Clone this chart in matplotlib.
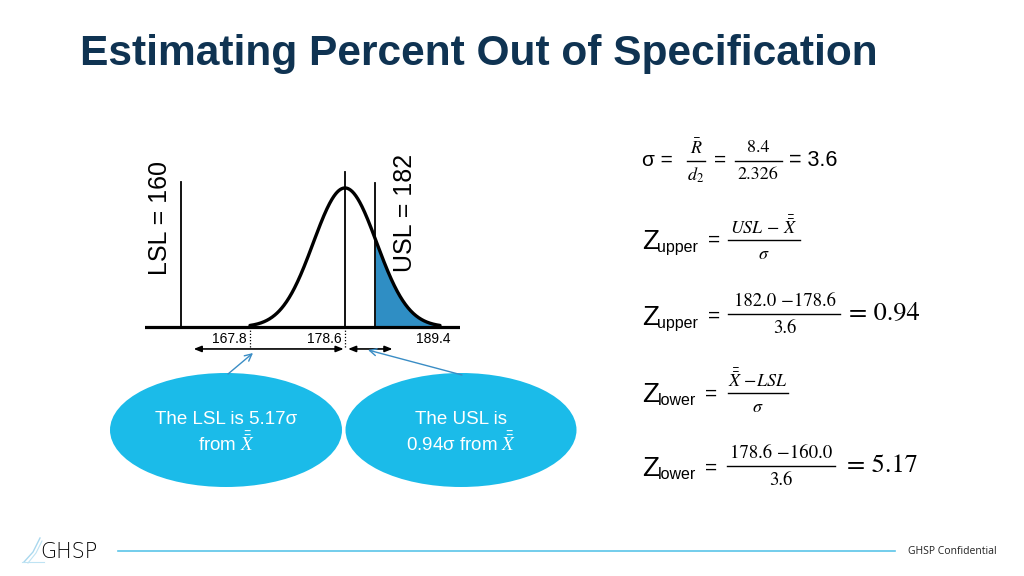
import numpy as np
import matplotlib
matplotlib.use("Agg")
import matplotlib.pyplot as plt
from matplotlib.patches import Ellipse
from matplotlib.transforms import offset_copy

# ---------------- data ----------------
title = "Estimating Percent Out of Specification"
mean = 178.6
sigma = 3.6
LSL = 160.0
USL = 182.0
tick_values = [167.8, 178.6, 189.4]
Rbar = 8.4
d2 = 2.326
z_upper = 0.94
z_lower = 5.17

# ---------------- styles ----------------
SANS = "Liberation Sans"
SERIF = "STIXGeneral"
TITLE_C = "#0F3352"
BUBBLE_C = "#1BBBE9"
FILL_C = "#2F8EC4"
ARROW_C = "#3A8DC5"
FOOT_C = "#5BC5E9"

fig = plt.figure(figsize=(10.24, 5.76), dpi=100)
fig.patch.set_facecolor("white")

# overlay axes in slide pixel coordinates
ov = fig.add_axes([0, 0, 1, 1])
ov.set_xlim(0, 1024)
ov.set_ylim(576, 0)
ov.axis("off")
ov.set_zorder(2)
ov.patch.set_alpha(0)

# title
ov.text(80, 54, title, fontsize=30.6, fontweight="bold", color=TITLE_C,
        family=SANS, ha="left", va="center")

# ---------------- normal curve axes ----------------
ax = fig.add_axes([145 / 1024, 216 / 576, 315 / 1024, 200 / 576])
ax.set_xlim(155.87, 191.67)
ax.set_ylim(-0.0263, 0.1331)
ax.axis("off")

xs = np.linspace(tick_values[0], tick_values[-1], 500)
pdf = np.exp(-0.5 * ((xs - mean) / sigma) ** 2) / (sigma * np.sqrt(2 * np.pi))
mask = xs >= USL
ax.fill_between(xs[mask], 0, pdf[mask], color=FILL_C, lw=0, zorder=1)
ax.plot(xs, pdf, color="black", lw=2.4, zorder=3, solid_capstyle="round")
ax.axhline(0, color="black", lw=2.3, zorder=4)

ax.plot([LSL, LSL], [0, 0.1156], color="black", lw=1.3, zorder=2)
ax.plot([USL, USL], [0, 0.1148], color="black", lw=1.3, zorder=2)
ax.plot([mean, mean], [0, 0.1236], color="black", lw=1.3, zorder=2)
for tv in (tick_values[0], tick_values[1]):
    ax.plot([tv, tv], [0, -0.0165], color="black", lw=0.9, ls=(0, (1, 1.5)))

label_offsets = [(-3, "right"), (-3, "right"), (-7, "center")]
for tv, (dx, ha) in zip(tick_values, label_offsets):
    tr = offset_copy(ax.transData, fig=fig, x=dx, y=0, units="dots")
    ax.text(tv, -0.0095, f"{tv:.1f}", transform=tr, ha=ha, va="center",
            fontsize=10, family=SANS)

arr_y = -0.0175
ax.annotate("", xy=(mean - 0.15, arr_y), xytext=(LSL + 1.4, arr_y),
            arrowprops=dict(arrowstyle="<|-|>,head_length=0.45,head_width=0.18",
                            color="black", lw=1.2, shrinkA=0, shrinkB=0))
ax.annotate("", xy=(USL + 2.0, arr_y), xytext=(mean + 0.35, arr_y),
            arrowprops=dict(arrowstyle="<|-|>,head_length=0.45,head_width=0.18",
                            color="black", lw=1.2, shrinkA=0, shrinkB=0))

# rotated spec labels
ov.text(160, 218, f"LSL = {LSL:.0f}", rotation=90, fontsize=18, family=SANS,
        ha="center", va="center")
ov.text(405, 213, f"USL = {USL:.0f}", rotation=90, fontsize=18, family=SANS,
        ha="center", va="center")

# ---------------- bubbles ----------------
ov.add_patch(Ellipse((226, 430), 232, 114, color=BUBBLE_C, lw=0, zorder=1))
ov.add_patch(Ellipse((461, 430), 231, 114, color=BUBBLE_C, lw=0, zorder=1))
ov.text(226, 419, f"The LSL is {z_lower}σ", color="white", fontsize=13.5,
        family=SANS, ha="center", va="center")
ov.text(226, 443, r"from $\bar{\bar{X}}$", color="white", fontsize=13.5,
        family=SANS, ha="center", va="center", math_fontfamily="stix")
ov.text(461, 419, "The USL is", color="white", fontsize=13.5,
        family=SANS, ha="center", va="center")
ov.text(461, 443, rf"{z_upper}σ from $\bar{{\bar{{X}}}}$", color="white",
        fontsize=13.5, family=SANS, ha="center", va="center",
        math_fontfamily="stix")

ov.annotate("", xy=(253, 353), xytext=(228, 374),
            arrowprops=dict(arrowstyle="->,head_length=0.5,head_width=0.25",
                            color=ARROW_C, lw=1.0, shrinkA=0, shrinkB=0))
ov.annotate("", xy=(368, 350), xytext=(462, 375),
            arrowprops=dict(arrowstyle="->,head_length=0.5,head_width=0.25",
                            color=ARROW_C, lw=1.0, shrinkA=0, shrinkB=0))

# ---------------- formulas ----------------
def frac(xc, y, num, den, x0, x1, size=13, math=False):
    kw = dict(ha="center", va="center", fontsize=size)
    if math:
        kw["math_fontfamily"] = "stix"
    else:
        kw["family"] = SERIF
    ov.text(xc, y - 13, num, **kw)
    ov.text(xc, y + 14, den, **kw)
    ov.plot([x0, x1], [y, y], color="black", lw=1.0)

def zlabel(x, ybase, sub):
    ov.text(x, ybase, "Z", fontsize=20, family=SANS, ha="left", va="baseline")
    ov.text(x + 15.5, ybase + 3, sub, fontsize=11.5, family=SANS, ha="left",
            va="baseline")

# sigma line
ov.text(642, 160, "σ =", fontsize=15, family=SANS, ha="left", va="center")
frac(696, 161, r"$\bar{R}$", r"$d_2$", 687, 705, math=True)
ov.text(720, 160, "=", fontsize=15, family=SANS, ha="center", va="center")
frac(758, 161, f"{Rbar}", f"{d2}", 735, 782)
ov.text(789, 160, f"= {sigma}", fontsize=15.5, family=SANS, ha="left", va="center")

# Z upper symbolic
zlabel(642, 249, "upper")
ov.text(714, 240, "=", fontsize=15, family=SANS, ha="center", va="center")
frac(764, 240, r"$USL\,-\,\bar{\bar{X}}$", r"$\sigma$", 728, 800, math=True)

# Z upper numeric
zlabel(642, 325, "upper")
ov.text(714, 316, "=", fontsize=15, family=SANS, ha="center", va="center")
frac(785, 314, f"{USL:.1f} \u2212{mean}", f"{sigma}", 728, 840, size=13.5)
ov.text(849, 314, f"= {z_upper}", fontsize=19, family=SERIF,
        ha="left", va="center")

# Z lower symbolic
zlabel(642, 402, "lower")
ov.text(711, 394, "=", fontsize=15, family=SANS, ha="center", va="center")
frac(758, 393, r"$\bar{\bar{X}}\ {-}LSL$", r"$\sigma$", 728, 788, math=True)

# Z lower numeric
zlabel(642, 476, "lower")
ov.text(711, 468, "=", fontsize=15, family=SANS, ha="center", va="center")
frac(781, 466, f"{mean} \u2212{LSL:.1f}", f"{sigma}", 727, 835, size=13.5)
ov.text(847, 466, f"= {z_lower}", fontsize=19, family=SERIF,
        ha="left", va="center")

# ---------------- footer ----------------
ov.plot([118, 895], [551, 551], color=FOOT_C, lw=1.2)
ov.text(908, 551, "GHSP Confidential", fontsize=7.5, family="Open Sans",
        ha="left", va="center", color="#222222")
ov.plot([24, 33, 40], [562, 552, 538], color="#A9D8EE", lw=1.0)
ov.plot([28, 36, 42], [563, 553, 541], color="#BFE3F3", lw=0.8)
ov.plot([22, 44], [562, 562], color="#BFE3F3", lw=0.8)
ov.text(40, 552, "GHSP", fontsize=15, family="DejaVu Sans", fontweight="light",
        ha="left", va="center", color="black")

fig.savefig("out.png", dpi=100, facecolor="white")
